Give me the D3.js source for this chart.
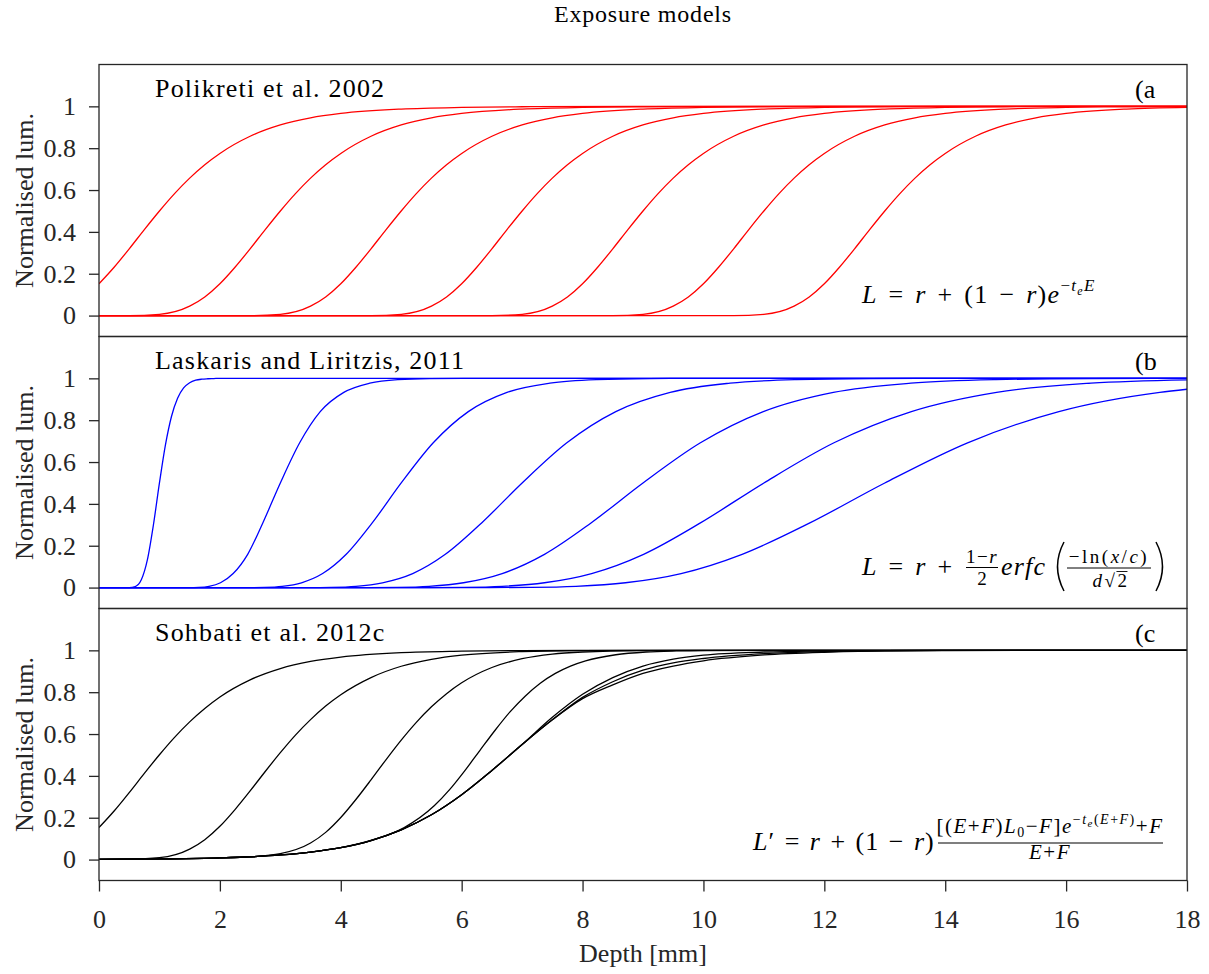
<!DOCTYPE html>
<html>
<head>
<meta charset="utf-8">
<script src="https://cdn.jsdelivr.net/npm/d3@7"></script>
<style>
  body { margin: 0; background: #fff; }
  text { font-family: "Liberation Serif", "Times New Roman", serif; }
</style>
</head>
<body>
<div id="chart"></div>
<script>
// Axis ticks
const depthTicks = [0, 2, 4, 6, 8, 10, 12, 14, 16, 18];
const lumTicks = [0, 0.2, 0.4, 0.6, 0.8, 1];

// Panel labels
const panelTitles = ["Polikreti et al. 2002", "Laskaris and Liritzis, 2011", "Sohbati et al. 2012c"];
const panelTags = ["(a", "(b", "(c"];
const curveColours = ["#ff0000", "#0000ff", "#000000"];

// Luminescence-depth profiles, [depth (mm), normalised luminescence]
const polikretiCurves = [
  [[0,0.152],[0.25,0.231],[0.5,0.319],[0.75,0.411],[1,0.5],[1.25,0.583],[1.5,0.657],[1.75,0.721],[2,0.775],[2.5,0.857],[3,0.911],[3.5,0.945],[4,0.966],[5,0.987],[6,0.995],[7,0.998],[9,1],[18,1]],
  [[0,0],[0.5,0],[1,0.006],[1.5,0.045],[1.75,0.089],[2,0.152],[2.25,0.231],[2.5,0.319],[2.75,0.411],[3,0.5],[3.25,0.583],[3.5,0.657],[3.75,0.721],[4,0.775],[4.5,0.857],[5,0.911],[5.5,0.945],[6,0.966],[7,0.987],[8,0.995],[9,0.998],[11,1],[18,1]],
  [[0,0],[2.5,0],[3,0.006],[3.5,0.045],[3.75,0.089],[4,0.152],[4.25,0.231],[4.5,0.319],[4.75,0.411],[5,0.5],[5.25,0.583],[5.5,0.657],[5.75,0.721],[6,0.775],[6.5,0.857],[7,0.911],[7.5,0.945],[8,0.966],[9,0.987],[10,0.995],[11,0.998],[13,1],[18,1]],
  [[0,0],[4.5,0],[5,0.006],[5.5,0.045],[5.75,0.089],[6,0.152],[6.25,0.231],[6.5,0.319],[6.75,0.411],[7,0.5],[7.25,0.583],[7.5,0.657],[7.75,0.721],[8,0.775],[8.5,0.857],[9,0.911],[9.5,0.945],[10,0.966],[11,0.987],[12,0.995],[13,0.998],[15,1],[18,1]],
  [[0,0],[6.5,0],[7,0.006],[7.5,0.045],[7.75,0.089],[8,0.152],[8.25,0.231],[8.5,0.319],[8.75,0.411],[9,0.5],[9.25,0.583],[9.5,0.657],[9.75,0.721],[10,0.775],[10.5,0.857],[11,0.911],[11.5,0.945],[12,0.966],[13,0.987],[14,0.995],[15,0.998],[17,1],[18,1]],
  [[0,0],[8.5,0],[9,0.006],[9.5,0.045],[9.75,0.089],[10,0.152],[10.25,0.231],[10.5,0.319],[10.75,0.411],[11,0.5],[11.25,0.583],[11.5,0.657],[11.75,0.721],[12,0.775],[12.5,0.857],[13,0.911],[13.5,0.945],[14,0.966],[15,0.987],[16,0.995],[17,0.998],[18,0.999]],
  [[0,0],[10.5,0],[11,0.006],[11.5,0.045],[11.75,0.089],[12,0.152],[12.25,0.231],[12.5,0.319],[12.75,0.411],[13,0.5],[13.25,0.583],[13.5,0.657],[13.75,0.721],[14,0.775],[14.5,0.857],[15,0.911],[15.5,0.945],[16,0.966],[17,0.987],[18,0.995]]
];

const laskarisCurves = [
  [[0,0],[0.5,0],[0.6,0.005],[0.7,0.037],[0.8,0.132],[0.9,0.299],[1,0.5],[1.1,0.683],[1.2,0.819],[1.3,0.905],[1.4,0.954],[1.5,0.979],[1.6,0.991],[1.7,0.996],[1.8,0.998],[1.9,0.999],[2,1],[18,1]],
  [[0,0],[1.49,0],[1.65,0.001],[1.82,0.006],[2.01,0.023],[2.22,0.067],[2.46,0.159],[2.71,0.309],[3,0.5],[3.32,0.692],[3.66,0.841],[4.05,0.933],[4.48,0.977],[4.95,0.994],[5.47,0.999],[6.04,1],[18,1]],
  [[0,0],[2.48,0],[2.74,0.001],[3.03,0.006],[3.35,0.023],[3.7,0.067],[4.09,0.159],[4.52,0.309],[5,0.5],[5.53,0.692],[6.11,0.841],[6.75,0.933],[7.46,0.977],[8.24,0.994],[9.11,0.999],[10.07,1],[18,1]],
  [[0,0],[3.48,0],[3.84,0.001],[4.25,0.006],[4.69,0.023],[5.19,0.067],[5.73,0.159],[6.33,0.309],[7,0.5],[7.74,0.692],[8.55,0.841],[9.45,0.933],[10.44,0.977],[11.54,0.994],[12.76,0.999],[14.1,1],[18,1]],
  [[0,0],[4.47,0],[4.94,0.001],[5.46,0.006],[6.03,0.023],[6.67,0.067],[7.37,0.159],[8.14,0.309],[9,0.5],[9.95,0.692],[10.99,0.841],[12.15,0.933],[13.43,0.977],[14.84,0.994],[16.4,0.999],[18,1]],
  [[0,0],[5.46,0],[6.04,0.001],[6.67,0.006],[7.37,0.023],[8.15,0.067],[9.01,0.159],[9.95,0.309],[11,0.5],[12.16,0.692],[13.44,0.841],[14.85,0.933],[16.41,0.977],[18,0.993]],
  [[0,0],[6.46,0],[7.14,0.001],[7.89,0.006],[8.71,0.023],[9.63,0.067],[10.64,0.159],[11.76,0.309],[13,0.5],[14.37,0.692],[15.88,0.841],[17.55,0.933],[18,0.948]]
];

const sohbatiCurves = [
  [[0,0.153],[0.25,0.232],[0.5,0.32],[0.75,0.412],[1,0.501],[1.25,0.584],[1.5,0.658],[1.75,0.722],[2,0.777],[2.5,0.859],[3,0.913],[3.5,0.947],[4,0.968],[5,0.989],[6,0.996],[7,0.999],[9,1],[18,1]],
  [[0,0.001],[0.5,0.002],[1,0.009],[1.5,0.05],[1.75,0.095],[2,0.159],[2.25,0.239],[2.5,0.328],[2.75,0.421],[3,0.511],[3.25,0.595],[3.5,0.669],[3.75,0.734],[4,0.788],[4.5,0.87],[5,0.924],[5.5,0.957],[6,0.977],[7,0.994],[8,0.999],[9,1],[18,1]],
  [[0,0.001],[1,0.003],[2,0.008],[2.5,0.013],[3,0.028],[3.5,0.079],[3.75,0.13],[4,0.201],[4.25,0.287],[4.5,0.381],[4.75,0.478],[5,0.571],[5.25,0.656],[5.5,0.73],[5.75,0.793],[6,0.845],[6.5,0.918],[7,0.96],[7.5,0.982],[8,0.992],[9,0.999],[10,1],[18,1]],
  [[0,0.001],[1,0.003],[2,0.008],[3,0.022],[3.5,0.036],[4,0.057],[4.55,0.096],[5.05,0.153],[5.55,0.258],[5.8,0.334],[6.05,0.424],[6.3,0.521],[6.55,0.617],[6.8,0.706],[7.05,0.781],[7.3,0.843],[7.55,0.89],[7.8,0.925],[8.05,0.95],[8.55,0.979],[9.05,0.992],[9.55,0.997],[10.05,0.999],[11.05,1],[18,1]],
  [[0,0.001],[1,0.003],[2,0.008],[3,0.022],[3.5,0.036],[4,0.057],[4.5,0.091],[5,0.142],[5.5,0.214],[6,0.31],[6.5,0.426],[7,0.55],[7.5,0.68],[8,0.79],[8.5,0.87],[9,0.925],[9.5,0.958],[10,0.977],[11,0.992],[12,0.997],[13,0.999],[14,1],[18,1]],
  [[0,0.001],[1,0.003],[2,0.008],[3,0.022],[3.5,0.036],[4,0.057],[4.5,0.091],[5,0.142],[5.5,0.214],[6,0.31],[6.5,0.426],[7,0.55],[7.5,0.668],[8,0.775],[8.5,0.85],[9,0.905],[9.5,0.94],[10,0.961],[11,0.984],[12,0.994],[13,0.998],[14,1],[18,1]],
  [[0,0.001],[1,0.003],[2,0.008],[3,0.022],[3.5,0.036],[4,0.057],[4.5,0.091],[5,0.142],[5.5,0.214],[6,0.31],[6.5,0.426],[7,0.55],[7.5,0.668],[8,0.769],[8.5,0.835],[9,0.89],[9.5,0.925],[10,0.95],[11,0.978],[12,0.991],[13,0.997],[14,0.999],[16,1],[18,1]]
];

const W = 1209, H = 974;
const AX = "#262626";
const FONT = "'Liberation Serif','Times New Roman',serif";
const panelTop = [64.5, 336.5, 608.5];
const panelH = 272;

const x = d3.scaleLinear().domain([0, 18]).range([99, 1187]);

const svg = d3.select("#chart").append("svg")
  .attr("width", W).attr("height", H)
  .style("background", "#fff");

svg.append("text")
  .attr("x", 643).attr("y", 21.5)
  .attr("text-anchor", "middle")
  .attr("font-size", 24)
  .attr("letter-spacing", 0.8)
  .attr("fill", "#000")
  .text("Exposure models");

const lumFormat = d => (d === 0 || d === 1) ? String(d) : d3.format(".1f")(d);

const panels = [polikretiCurves, laskarisCurves, sohbatiCurves];

// Appends a run of text pieces to a <text>; each piece may be italic, resized or shifted
function runs(textSel, pieces) {
  pieces.forEach(p => {
    const t = textSel.append("tspan").text(p.t);
    if (p.i) t.attr("font-style", "italic");
    if (p.fs) t.attr("font-size", p.fs);
    if (p.dy) t.attr("dy", p.dy);
    if (p.dx) t.attr("dx", p.dx);
  });
  return textSel;
}

// Text element styled like typeset maths (wider spacing)
function mathText(px, py, size, ls, ws, anchor) {
  const t = svg.append("text")
    .attr("x", px).attr("y", py)
    .attr("font-size", size)
    .attr("letter-spacing", ls)
    .attr("fill", "#000");
  if (ws) t.attr("word-spacing", ws);
  if (anchor) t.attr("text-anchor", anchor);
  return t;
}

panels.forEach((curves, i) => {
  const top = panelTop[i];
  const y = d3.scaleLinear().domain([-0.1, 1.2]).range([top + panelH, top]);
  const g = svg.append("g");

  svg.append("clipPath").attr("id", "clip" + i)
    .append("rect")
    .attr("x", x(0)).attr("y", top)
    .attr("width", x(18) - x(0)).attr("height", panelH);

  const line = d3.line()
    .x(d => x(d[0]))
    .y(d => y(d[1]))
    .curve(d3.curveMonotoneX);

  g.append("g").attr("clip-path", `url(#clip${i})`)
    .selectAll("path")
    .data(curves)
    .join("path")
    .attr("d", line)
    .attr("fill", "none")
    .attr("stroke", curveColours[i])
    .attr("stroke-width", 1.3);

  g.append("rect")
    .attr("x", x(0)).attr("y", top)
    .attr("width", x(18) - x(0)).attr("height", panelH)
    .attr("fill", "none")
    .attr("stroke", AX)
    .attr("stroke-width", 1.3);

  const ya = g.append("g")
    .attr("transform", `translate(${x(0)},0)`)
    .call(d3.axisLeft(y).tickValues(lumTicks).tickSize(10).tickPadding(13).tickFormat(lumFormat));
  ya.select(".domain").remove();
  ya.attr("font-family", FONT).attr("font-size", 26);
  ya.selectAll("line").attr("stroke", AX).attr("stroke-width", 1.3);
  ya.selectAll("text").attr("fill", AX);

  svg.append("text")
    .attr("transform", `translate(33,${top + panelH / 2}) rotate(-90)`)
    .attr("text-anchor", "middle")
    .attr("font-size", 26)
    .attr("fill", AX)
    .text("Normalised lum.");

  svg.append("text")
    .attr("x", 155).attr("y", top + 32)
    .attr("font-size", 26)
    .attr("letter-spacing", 1.2)
    .text(panelTitles[i]);

  svg.append("text")
    .attr("x", 1135).attr("y", top + 33)
    .attr("font-size", 26)
    .text(panelTags[i]);

  if (i === 2) {
    const xa = g.append("g")
      .attr("transform", `translate(0,${top + panelH})`)
      .call(d3.axisBottom(x).tickValues(depthTicks).tickSize(11).tickPadding(18));
    xa.select(".domain").remove();
    xa.attr("font-family", FONT).attr("font-size", 26);
    xa.selectAll("line").attr("stroke", AX).attr("stroke-width", 1.3);
    xa.selectAll("text").attr("fill", AX);
  }
});

// Model equations
(function () {
  const ta = panelTop[0];
  runs(mathText(862, ta + 238.5, 26, 1.3, 3), [
    { t: "L", i: true }, { t: " = " }, { t: "r", i: true }, { t: " + (1 − " }, { t: "r", i: true }, { t: ")" },
    { t: "e", i: true },
    { t: "−", fs: 17, dy: -12 }, { t: "t", i: true, fs: 17 }, { t: "e", i: true, fs: 12, dy: 4 }, { t: "E", i: true, fs: 17, dy: -4 }
  ]);

  const tb = panelTop[1];
  runs(mathText(862, tb + 238.5, 26, 1.3, 3), [
    { t: "L", i: true }, { t: " = " }, { t: "r", i: true }, { t: " +" }
  ]);
  runs(mathText(982, tb + 226, 19, 1.5, 0, "middle"), [
    { t: "1−" }, { t: "r", i: true }
  ]);
  svg.append("line").attr("x1", 966).attr("x2", 998).attr("y1", tb + 231).attr("y2", tb + 231)
    .attr("stroke", "#000").attr("stroke-width", 1);
  mathText(982, tb + 248, 19, 0, 0, "middle").text("2");
  mathText(1001, tb + 238.5, 26, 1.2, 0).attr("font-style", "italic").text("erfc");
  svg.append("path").attr("d", `M1064,${tb + 205.5} Q1051,${tb + 230} 1064,${tb + 254.5}`)
    .attr("fill", "none").attr("stroke", "#000").attr("stroke-width", 1.5);
  svg.append("path").attr("d", `M1156,${tb + 205.5} Q1169,${tb + 230} 1156,${tb + 254.5}`)
    .attr("fill", "none").attr("stroke", "#000").attr("stroke-width", 1.5);
  runs(mathText(1109, tb + 226, 19, 2.5, 0, "middle"), [
    { t: "−ln(" }, { t: "x", i: true }, { t: "/" }, { t: "c", i: true }, { t: ")" }
  ]);
  svg.append("line").attr("x1", 1067).attr("x2", 1151).attr("y1", tb + 231.5).attr("y2", tb + 231.5)
    .attr("stroke", "#000").attr("stroke-width", 1);
  const den = runs(mathText(1111, tb + 250, 19, 2.5, 0, "middle"), [
    { t: "d", i: true }, { t: "√2" }
  ]);
  const r2 = den.node().getExtentOfChar(2);
  svg.append("line").attr("x1", r2.x - 1).attr("x2", r2.x + r2.width - 2)
    .attr("y1", r2.y + 2).attr("y2", r2.y + 2).attr("stroke", "#000").attr("stroke-width", 0.9);

  const tc = panelTop[2];
  runs(mathText(753, tc + 241.5, 26, 1.0, 2), [
    { t: "L", i: true }, { t: "′ = " }, { t: "r", i: true }, { t: " + (1 − " }, { t: "r", i: true }, { t: ")" }
  ]);
  runs(mathText(1050, tc + 224.5, 21, 1.5, 0, "middle"), [
    { t: "[(" }, { t: "E", i: true }, { t: "+" }, { t: "F", i: true }, { t: ")" }, { t: "L", i: true },
    { t: "0", fs: 14, dy: 4 }, { t: "−", dy: -4 }, { t: "F", i: true }, { t: "]" }, { t: "e", i: true },
    { t: "−", fs: 14, dy: -9 }, { t: "t", i: true, fs: 14 }, { t: "e", i: true, fs: 11, dy: 3 },
    { t: "(", fs: 14, dy: -3 }, { t: "E", i: true, fs: 14 }, { t: "+", fs: 14 }, { t: "F", i: true, fs: 14 }, { t: ")", fs: 14 },
    { t: "+", dy: 9 }, { t: "F", i: true }
  ]);
  svg.append("line").attr("x1", 938).attr("x2", 1163).attr("y1", tc + 234.5).attr("y2", tc + 234.5)
    .attr("stroke", "#000").attr("stroke-width", 1.2);
  runs(mathText(1050, tc + 250, 21, 1.5, 0, "middle"), [
    { t: "E", i: true }, { t: "+" }, { t: "F", i: true }
  ]);
})();

svg.append("text")
  .attr("x", 643).attr("y", 962)
  .attr("text-anchor", "middle")
  .attr("font-size", 26)
  .attr("fill", AX)
  .text("Depth [mm]");
</script>
</body>
</html>
